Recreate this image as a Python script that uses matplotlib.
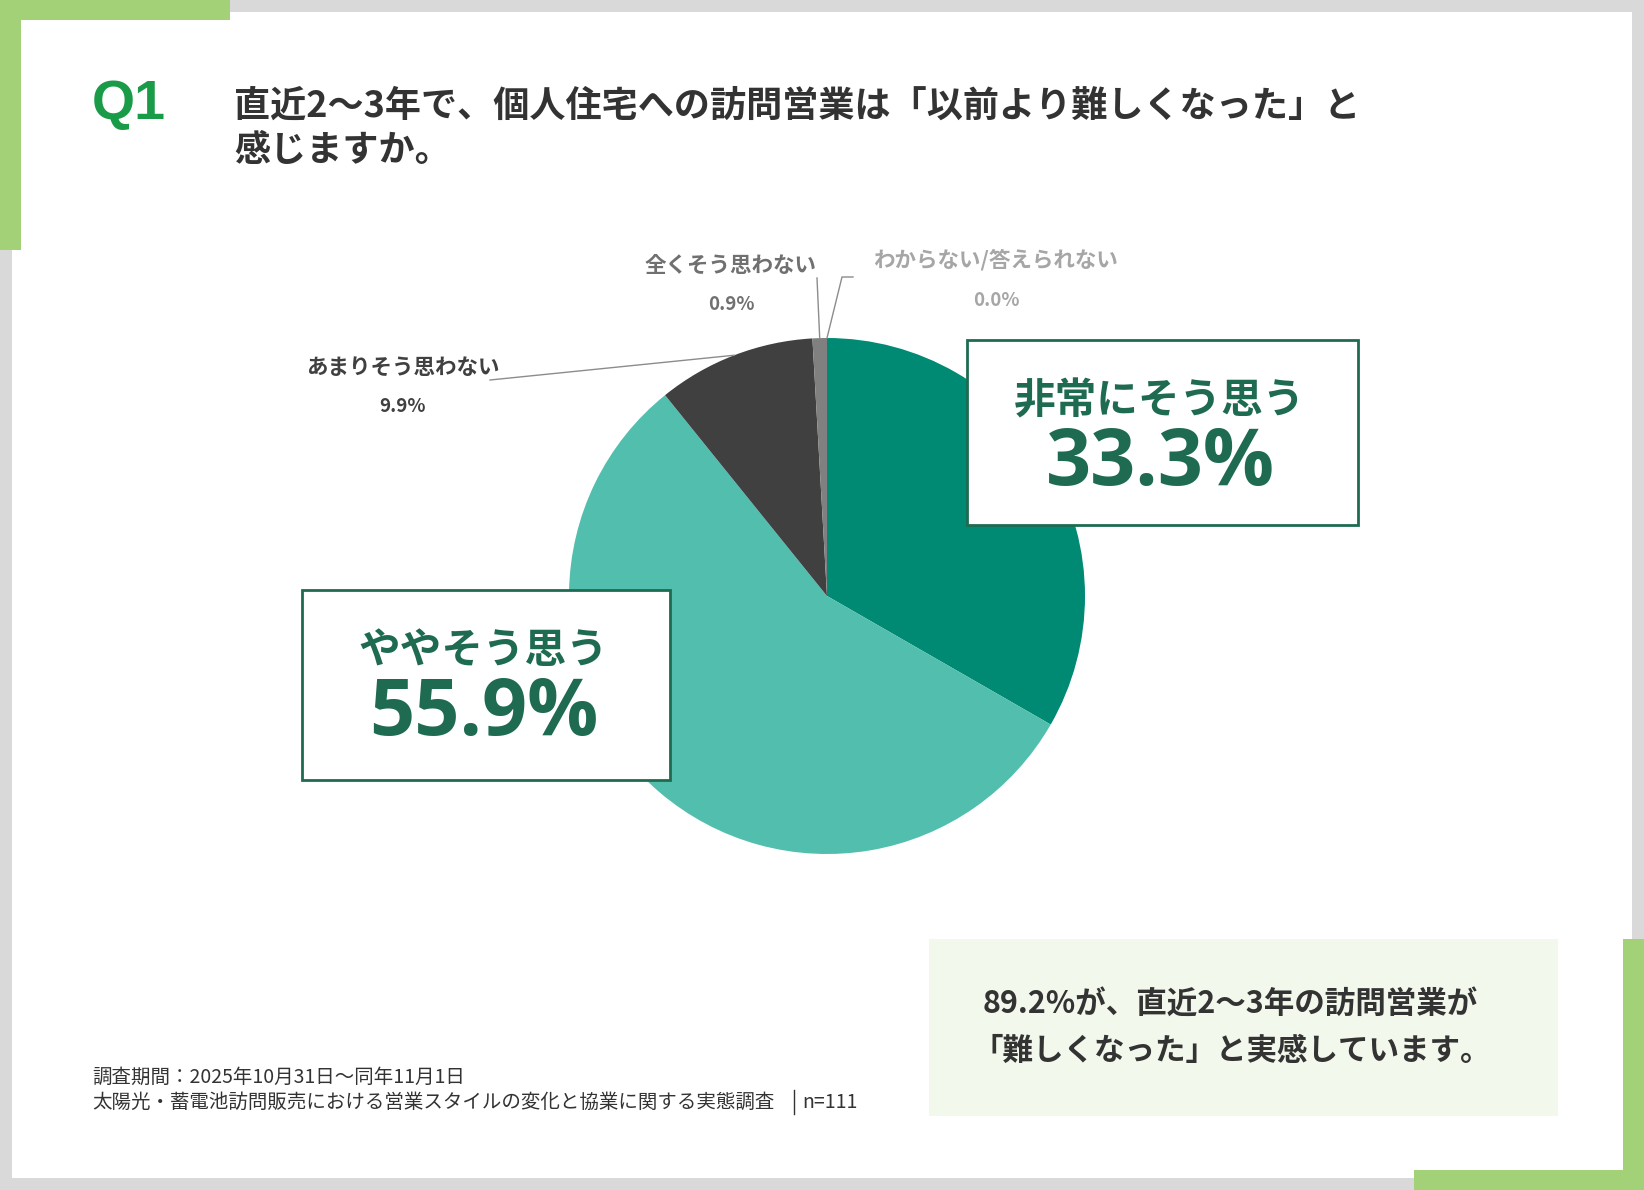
import numpy as np
import matplotlib
matplotlib.use("Agg")
import matplotlib.pyplot as plt
from matplotlib.patches import Rectangle

plt.rcParams['font.family'] = ['Noto Sans CJK JP', 'DejaVu Sans']

# data
labels = ['非常にそう思う', 'ややそう思う', 'あまりそう思わない', '全くそう思わない', 'わからない/答えられない']
values = [33.3, 55.9, 9.9, 0.9, 0.0]
slice_colors = ['#008a74', '#52bfae', '#404040', '#808080', '#b0b0b0']
label_colors = ['#1e6b52', '#1e6b52', '#404040', '#707070', '#a6a6a6']
n_resp = 111

title = '直近2〜3年で、個人住宅への訪問営業は「以前より難しくなった」と\n感じますか。'
summary = ['89.2%が、直近2〜3年の訪問営業が', '「難しくなった」と実感しています。']
footer = ['調査期間：2025年10月31日〜同年11月1日',
          '太陽光・蓄電池訪問販売における営業スタイルの変化と協業に関する実態調査']

W, H = 1644, 1190
fig = plt.figure(figsize=(W / 100, H / 100), dpi=100)
fig.patch.set_facecolor('white')

# pie axes: centre (827, 596), radius 258 px
cx, cy, r = 827, 596, 258
ax_pie = fig.add_axes([(cx - r) / W, (H - cy - r) / H, 2 * r / W, 2 * r / H], zorder=1)
ax_pie.pie(values, colors=slice_colors, startangle=90, counterclock=False,
           wedgeprops=dict(linewidth=0))
ax_pie.set_xlim(-1, 1)
ax_pie.set_ylim(-1, 1)
ax_pie.axis('off')

# overlay axes in pixel coords
ax = fig.add_axes([0, 0, 1, 1], zorder=2)
ax.set_xlim(0, W)
ax.set_ylim(H, 0)
ax.axis('off')

def rect(x0, y0, x1, y1, **kw):
    ax.add_patch(Rectangle((x0, y0), x1 - x0, y1 - y0, **kw))

# frame
grey = '#d9d9d9'
green = '#a3d177'
rect(0, 0, W, 12, color=grey, lw=0)
rect(0, 0, 12, H, color=grey, lw=0)
rect(W - 12, 0, W, H, color=grey, lw=0)
rect(0, H - 12, W, H, color=grey, lw=0)
rect(0, 0, 230, 20, color=green, lw=0)
rect(0, 0, 21, 250, color=green, lw=0)
rect(W - 21, 939, W, H, color=green, lw=0)
rect(1414, H - 20, W, H, color=green, lw=0)

# header
ax.text(92, 105, 'Q1', family='Liberation Sans', fontweight='bold', fontsize=40,
        color='#1a9b48', va='center', ha='left')
ax.text(234, 128, title, fontsize=26, fontweight='bold', color='#333333',
        va='center', ha='left', linespacing=1.25)

# slice geometry from data
total = sum(values)
starts = np.concatenate([[0], np.cumsum(values)[:-1]])
mids = 90 - 360 * (starts + np.array(values) / 2) / total

def edge_point(i):
    th = np.deg2rad(mids[i])
    p = ax_pie.transData.transform((np.cos(th), np.sin(th)))
    return ax.transData.inverted().transform(p)

fig.canvas.draw()

# small slice labels
small = [(2, (403, 367), (402, 407)),
         (3, (731, 265), (731, 305)),
         (4, (996, 260), (996, 300))]
for i, lp, pp in small:
    ax.text(lp[0], lp[1], labels[i], fontsize=15.5, fontweight='bold',
            color=label_colors[i], ha='center', va='center')
    ax.text(pp[0], pp[1], f'{values[i]:.1f}%', fontsize=13.5, fontweight='bold',
            color=label_colors[i], ha='center', va='center')

lc = '#8c8c8c'
ex, ey = edge_point(2)
ax.plot([490, ex], [380, ey], color=lc, lw=1)
ex, ey = edge_point(3)
ax.plot([817, ex], [278, ey], color=lc, lw=1)
ex, ey = edge_point(4)
ax.plot([853, 842, ex], [277, 277, ey], color=lc, lw=1)

# big label boxes
box_green = '#1e6b52'
boxes = [(0, (967, 340, 1358, 525)), (1, (302, 590, 670, 780))]
for i, (x0, y0, x1, y1) in boxes:
    rect(x0, y0, x1, y1, facecolor='white', edgecolor=box_green, lw=2)
    xc = (x0 + x1) / 2
    ax.text(xc - 3, y0 + 61, labels[i], fontsize=30, fontweight='bold',
            color=box_green, ha='center', va='center')
    ax.text(xc - 2, y0 + 125, f'{values[i]:.1f}%', family='Open Sans',
            fontsize=57, fontweight='bold', color=box_green,
            ha='center', va='center')

# summary box
rect(929, 939, 1558, 1116, color='#f3f8ec', lw=0)
ax.text(983, 1004, summary[0], fontsize=22, fontweight='bold', color='#333333',
        ha='left', va='center')
ax.text(972, 1051, summary[1], fontsize=22, fontweight='bold', color='#333333',
        ha='left', va='center')

# footer
ax.text(92, 1077, footer[0], fontsize=14, color='#333333', ha='left', va='center')
ax.text(92, 1102, footer[1], fontsize=14, color='#333333', ha='left', va='center')
ax.plot([794, 794], [1090, 1114], color='#333333', lw=1)
ax.text(802, 1102, f'n={n_resp}', fontsize=14, color='#333333', ha='left', va='center')

fig.savefig('out.png', dpi=100, facecolor='white')
